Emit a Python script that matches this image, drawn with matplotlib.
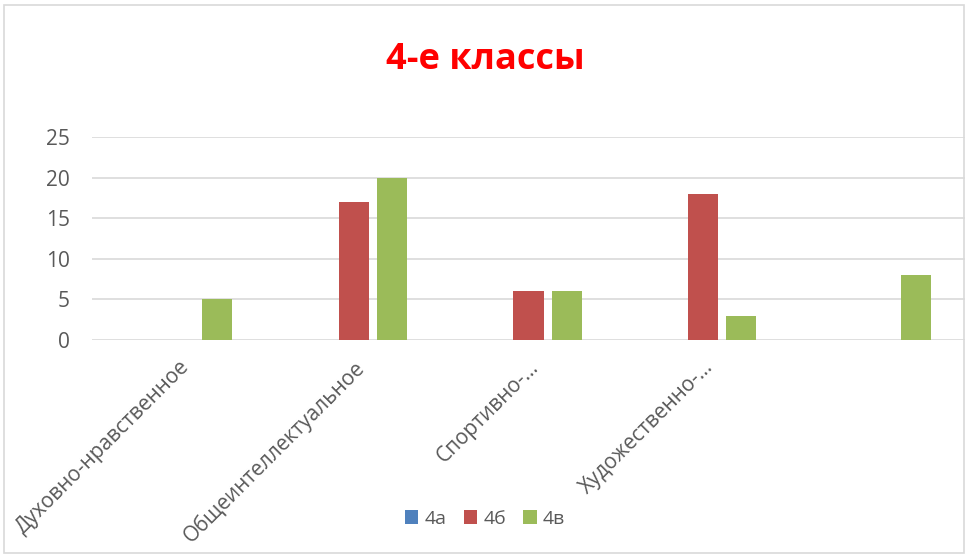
import matplotlib
matplotlib.use("Agg")
import matplotlib.pyplot as plt
import numpy as np
from matplotlib.patches import Rectangle

categories = ['Духовно-нравственное', 'Общеинтеллектуальное', 'Спортивно-...', 'Художественно-...', '']
series_names = ['4а', '4б', '4в']
vals_4a = [0, 0, 0, 0, 0]
vals_4b = [0, 17, 6, 18, 0]
vals_4v = [5, 20, 6, 3, 8]
colors = ['#4f81bd', '#c0504d', '#9bbb59']

plt.rcParams['font.family'] = ['Open Sans', 'DejaVu Sans']

fig = plt.figure(figsize=(9.67, 5.56), dpi=100)
ax = fig.add_axes([92/967, 1-340/556, (965-92)/967, (340-137)/556])

x = np.arange(len(categories))
w = 0.172
step = 0.218
for i, (name, vals) in enumerate(zip(series_names, [vals_4a, vals_4b, vals_4v])):
    ax.bar(x + (i-1)*step, vals, width=w, color=colors[i], label=name, zorder=3)

ax.set_xlim(-0.5, len(categories)-0.5)
ax.set_ylim(0, 25)
ax.set_yticks([0, 5, 10, 15, 20, 25])
ax.yaxis.grid(True, color='#d9d9d9', linewidth=1.2, zorder=0)
for s in ax.spines.values():
    s.set_visible(False)
ax.tick_params(axis='both', length=0, colors='#595959', labelsize=15)
ax.tick_params(axis='y', pad=16)
ax.tick_params(axis='x', pad=12)
ax.set_xticks(x)
ax.set_xticklabels(categories, rotation=45, ha='right', va='top', rotation_mode='anchor')

fig.text(485/967, 1-60/556, '4-е классы', color='#ff0000', fontsize=26, fontweight='bold',
         ha='center', va='center')

fig.legend(loc='center', bbox_to_anchor=(485/967, 1-519/556), ncol=3, frameon=False,
           fontsize=14, handlelength=0.7, handleheight=0.7, handletextpad=0.3,
           columnspacing=0.9, labelcolor='#595959')

fig.patches.append(Rectangle((4/967, 3/556), 960/967, 548/556, transform=fig.transFigure,
                             fill=False, edgecolor='#d9d9d9', linewidth=1.2))

fig.savefig('out.png', dpi=100)
